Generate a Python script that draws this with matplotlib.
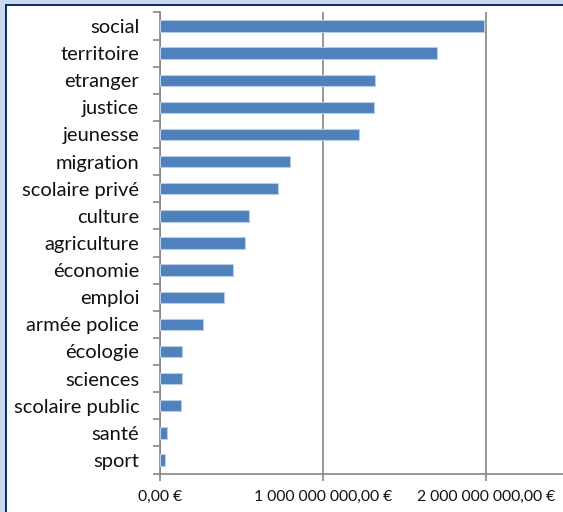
import matplotlib
matplotlib.use("Agg")
import matplotlib.pyplot as plt
from matplotlib.patches import Rectangle
from matplotlib.ticker import FuncFormatter, FixedLocator

# budget par domaine (en euros)
categories = ["social", "territoire", "etranger", "justice", "jeunesse",
              "migration", "scolaire privé", "culture", "agriculture",
              "économie", "emploi", "armée police", "écologie", "sciences",
              "scolaire public", "santé", "sport"]
values = [1.99e9, 1.70e9, 1.32e9, 1.31e9, 1.22e9,
          0.80e9, 0.725e9, 0.545e9, 0.52e9,
          0.445e9, 0.395e9, 0.262e9, 0.135e9, 0.135e9,
          0.127e9, 0.041e9, 0.033e9]
x_ticks = [0, 1e9, 2e9]

plt.rcParams['font.family'] = ['Lato', 'DejaVu Sans']

W, H = 563, 512
fig = plt.figure(figsize=(W / 100, H / 100), dpi=100)

# light blue outer frame + navy border (Excel window look)
fig.patches.append(Rectangle((0, 0), 1, 1, transform=fig.transFigure,
                             facecolor="#c9d8ec", edgecolor="none", zorder=-3))
fig.patches.append(Rectangle((7 / W, 0), 1, 1 - 6 / H, transform=fig.transFigure,
                             facecolor="white", edgecolor="none", zorder=-2))
fig.patches.append(Rectangle((5 / W, 0), 2 / W, 1 - 4 / H, transform=fig.transFigure,
                             facecolor="#0c2d6e", edgecolor="none", zorder=-1))
fig.patches.append(Rectangle((5 / W, 1 - 6 / H), 1, 2 / H, transform=fig.transFigure,
                             facecolor="#0c2d6e", edgecolor="none", zorder=-1))

left = 160 / W
bottom = 38.5 / H
top = 1 - 12.4 / H
right = (160 + 2.5 * 163) / W
ax = fig.add_axes([left, bottom, right - left, top - bottom])
ax.set_facecolor("none")

ypos = list(range(len(categories)))
ax.barh(ypos, values, height=0.42, color="#4f81bd", edgecolor="#b9cde5",
        linewidth=0.8, zorder=3)

ax.set_ylim(len(categories) - 0.5, -0.5)
ax.set_xlim(0, 2.5e9)

grey = "#868686"
for s in ["top", "right"]:
    ax.spines[s].set_visible(False)
for s in ["left", "bottom"]:
    ax.spines[s].set_color(grey)
    ax.spines[s].set_linewidth(1.2)

ax.set_yticks(ypos)
ax.set_yticklabels(categories, fontsize=14.5, color="#111111")
ax.yaxis.set_minor_locator(FixedLocator([i - 0.5 for i in range(len(categories) + 1)]))
ax.tick_params(axis="y", which="major", length=0, pad=15)
ax.tick_params(axis="y", which="minor", length=5, width=1.2, color=grey)

def euro(v, pos):
    s = f"{v:,.2f}".replace(",", " ").replace(".", ",")
    return s + " €"

ax.set_xticks(x_ticks)
ax.xaxis.set_major_formatter(FuncFormatter(euro))
ax.tick_params(axis="x", which="major", length=5, width=1.2, color=grey,
               labelsize=11.3, labelcolor="#111111", pad=7)

ax.grid(axis="x", color=grey, linewidth=1.2, zorder=0)
ax.set_axisbelow(True)

fig.savefig("out.png", dpi=100)
